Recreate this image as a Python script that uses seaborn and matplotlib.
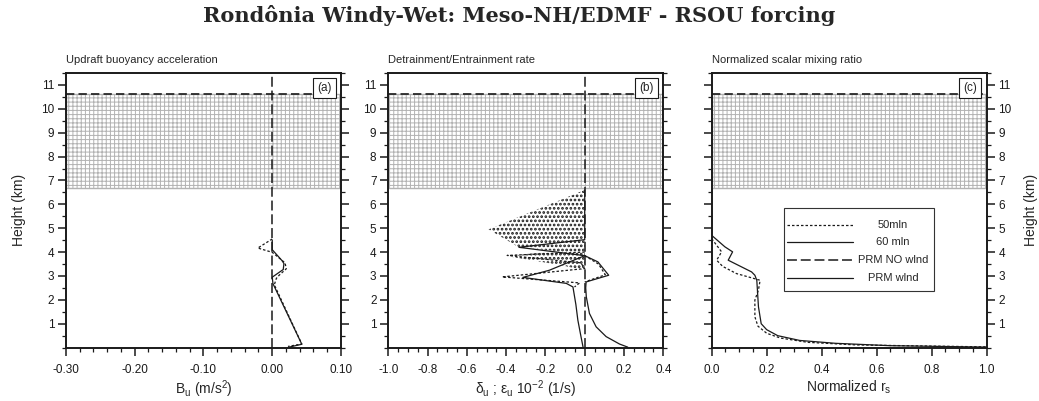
import numpy as np
import pandas as pd
import matplotlib
matplotlib.use("Agg")
import matplotlib.pyplot as plt
import seaborn as sns
from matplotlib.ticker import MultipleLocator, FormatStrFormatter
from matplotlib.patches import Rectangle

# ---------------- data ----------------
# panel (a) updraft buoyancy (m/s2) vs height (km)
a_z_50 = [4.55, 4.17, 3.99, 3.55, 3.30, 3.03, 2.90, 2.63, 0.15, 0.05]
a_b_50 = [0.0, -0.021, 0.0, 0.0186, 0.0204, 0.010, 0.006, 0.003, 0.043, 0.023]
a_z_60 = [4.50, 4.10, 3.65, 3.52, 3.27, 3.03, 2.95, 2.68, 0.14, 0.01]
a_b_60 = [0.0, 0.0, 0.014, 0.017, 0.016, 0.004, 0.0, 0.001, 0.043, 0.023]

# panel (b) detrainment (negative) / entrainment (positive), 10^-2 1/s
b_stip_z = [6.6, 4.95, 4.2, 4.05, 3.83, 3.45, 3.24]
b_stip_x = [0.0, -0.49, -0.335, -0.15, -0.395, -0.12, 0.0]
b_det60_z = [6.6, 4.52, 4.20, 3.85, 3.24, 2.94, 2.69, 2.54, 1.80, 1.15, 0.50, 0.0]
b_det60_x = [0.0, 0.0, -0.335, 0.0, -0.18, -0.315, -0.094, -0.06, -0.045, -0.035, -0.02, -0.008]
b_det50_z = [4.0, 3.86, 3.55, 3.31, 2.96, 2.71, 2.54]
b_det50_x = [0.0, -0.395, -0.02, 0.0, -0.42, -0.026, -0.052]
b_ent60_z = [3.85, 3.59, 3.03, 2.75, 2.50, 2.13, 1.43, 0.87, 0.46, 0.15, 0.02]
b_ent60_x = [0.0, 0.067, 0.122, 0.007, 0.005, 0.008, 0.024, 0.058, 0.109, 0.177, 0.219]
b_ent50_z = [3.85, 3.50, 3.05, 2.75]
b_ent50_x = [0.0, 0.07, 0.105, 0.0]

# panel (c) normalized scalar mixing ratio
c_z_50 = [4.56, 4.01, 3.66, 3.40, 3.10, 2.89, 2.82, 2.41, 1.99, 1.29, 0.90, 0.60, 0.40, 0.22, 0.11, 0.03]
c_r_50 = [0.0, 0.036, 0.018, 0.04, 0.09, 0.155, 0.176, 0.17, 0.157, 0.157, 0.168, 0.20, 0.25, 0.35, 0.53, 1.0]
c_z_60 = [4.70, 4.22, 4.01, 3.66, 3.17, 3.03, 2.82, 1.71, 1.00, 0.75, 0.50, 0.30, 0.18, 0.08, 0.02]
c_r_60 = [0.0, 0.048, 0.076, 0.06, 0.145, 0.157, 0.164, 0.17, 0.18, 0.20, 0.24, 0.32, 0.45, 0.65, 1.0]

# layer markers (km)
cloud_base = 6.7
cloud_top = 10.6

y_ticks = [1, 2, 3, 4, 5, 6, 7, 8, 9, 10, 11]
a_xticks = [-0.30, -0.20, -0.10, 0.00, 0.10]
b_xticks = [-1.0, -0.8, -0.6, -0.4, -0.2, 0.0, 0.2, 0.4]
c_xticks = [0.0, 0.2, 0.4, 0.6, 0.8, 1.0]

titles = ["Updraft buoyancy acceleration", "Detrainment/Entrainment rate",
          "Normalized scalar mixing ratio"]
tags = ["(a)", "(b)", "(c)"]
xlabels = ["B$_{u}$ (m/s$^{2}$)", "\u03b4$_{u}$ ; \u03b5$_{u}$ 10$^{-2}$ (1/s)",
           "Normalized r$_{s}$"]
leg_labels = ["50mln", "60 mln", "PRM NO wlnd", "PRM wlnd"]

# ---------------- style ----------------
sns.set_theme(style="white")
plt.rcParams["font.family"] = ["Liberation Sans", "DejaVu Sans"]
plt.rcParams["mathtext.default"] = "regular"
plt.rcParams["axes.unicode_minus"] = False
plt.rcParams["hatch.linewidth"] = 0.7

DOT = (0, (2.0, 1.6))
LDASH = (0, (6.5, 2.5))

fig = plt.figure(figsize=(10.39, 4.01), dpi=100)
W, H = 1039.0, 401.0
ax_w = 275 / W
ax_h = 274.6 / H
ax_b = (H - 347.6) / H
lefts = [66 / W, 388.3 / W, 711.7 / W]
axes = [fig.add_axes([l, ax_b, ax_w, ax_h]) for l in lefts]


def prof(ax, x, z, ls, lw=0.9):
    sns.lineplot(x=x, y=z, ax=ax, sort=False, estimator=None, orient="y",
                 color="k", lw=lw, linestyle=ls)


xlims = [(-0.30, 0.10), (-1.0, 0.4), (0.0, 1.0)]
xticks = [a_xticks, b_xticks, c_xticks]
xminor = [0.02, 0.05, 0.05]
xfmt = ["%.2f", "%.1f", "%.1f"]

for i, ax in enumerate(axes):
    ax.set_facecolor("white")
    ax.axhspan(cloud_base, cloud_top, facecolor="white", edgecolor="#b2b2b2",
               hatch="++++", lw=1.0, zorder=0.5)
    ax.axhline(cloud_top, color="k", lw=1.2, ls=(0, (5, 2.5)), zorder=3)
    ax.set_xlim(*xlims[i])
    ax.set_ylim(0, 11.5)
    ax.set_xticks(xticks[i])
    ax.xaxis.set_major_formatter(FormatStrFormatter(xfmt[i]))
    ax.xaxis.set_minor_locator(MultipleLocator(xminor[i]))
    ax.set_yticks(y_ticks)
    ax.yaxis.set_minor_locator(MultipleLocator(0.5))
    for s in ax.spines.values():
        s.set_linewidth(1.4)
        s.set_color("k")
        s.set_zorder(5)
    ax.tick_params(which="both", direction="out", top=False, bottom=True,
                   left=True, right=True, colors="k", labelsize=8.5)
    ax.tick_params(which="major", length=5.5, width=1.1, pad=3)
    ax.tick_params(which="minor", length=3, width=0.9)
    ax.tick_params(axis="x", which="major", pad=6)
    ax.set_title(titles[i], loc="left", fontsize=8, pad=7)
    ax.set_xlabel(xlabels[i], fontsize=10, labelpad=2)
    ax.text(0.965, 0.967, tags[i], transform=ax.transAxes, ha="right", va="top",
            fontsize=8.5, zorder=6,
            bbox=dict(boxstyle="square,pad=0.35", fc="white", ec="k", lw=0.8))

# panel a
ax = axes[0]
ax.axvline(0, color="k", lw=1.1, ls=LDASH, zorder=2)
prof(ax, a_b_50, a_z_50, DOT)
prof(ax, a_b_60, a_z_60, "-")
ax.set_ylabel("Height (km)", fontsize=10, labelpad=11)
ax.tick_params(axis="y", labelleft=True, labelright=False)

# panel b
ax = axes[1]
with plt.rc_context({"hatch.linewidth": 1.3}):
    ax.fill_betweenx(b_stip_z, b_stip_x, 0, facecolor="none", edgecolor="k",
                     hatch="....", lw=0, zorder=1)
ax.axvline(0, color="k", lw=1.1, ls=LDASH, zorder=2)
prof(ax, b_det50_x, b_det50_z, DOT)
prof(ax, b_det60_x, b_det60_z, "-")
prof(ax, b_ent50_x, b_ent50_z, DOT)
prof(ax, b_ent60_x, b_ent60_z, "-")
ax.set_ylabel("")
ax.tick_params(axis="y", labelleft=True, labelright=False)

# panel c
ax = axes[2]
prof(ax, c_r_50, c_z_50, DOT)
prof(ax, c_r_60, c_z_60, "-")
ax.yaxis.set_label_position("right")
ax.set_ylabel("Height (km)", fontsize=10, labelpad=9)
ax.tick_params(axis="y", labelleft=False, labelright=True)

# manual legend box in panel c
ax.add_patch(Rectangle((0.264, 0.207), 0.545, 0.302, transform=ax.transAxes,
                       facecolor="white", edgecolor="#333333", lw=0.8, zorder=6))
leg_styles = [DOT, "-", LDASH, "-"]
leg_lw = [0.9, 0.9, 1.1, 0.9]
row_y = [0.447, 0.383, 0.319, 0.254]
for lab, ls, lw, yy in zip(leg_labels, leg_styles, leg_lw, row_y):
    ax.plot([0.273, 0.515], [yy, yy], transform=ax.transAxes, color="k",
            ls=ls, lw=lw, zorder=7)
    ax.text(0.659, yy, lab, transform=ax.transAxes, ha="center", va="center",
            fontsize=8, zorder=7)

fig.text(0.5, 0.962, "Rond\u00f4nia Windy-Wet: Meso-NH/EDMF - RSOU forcing",
         ha="center", va="center", fontsize=15, fontweight="bold",
         family=["DejaVu Serif"])

fig.savefig("out.png", dpi=100, facecolor="white")
